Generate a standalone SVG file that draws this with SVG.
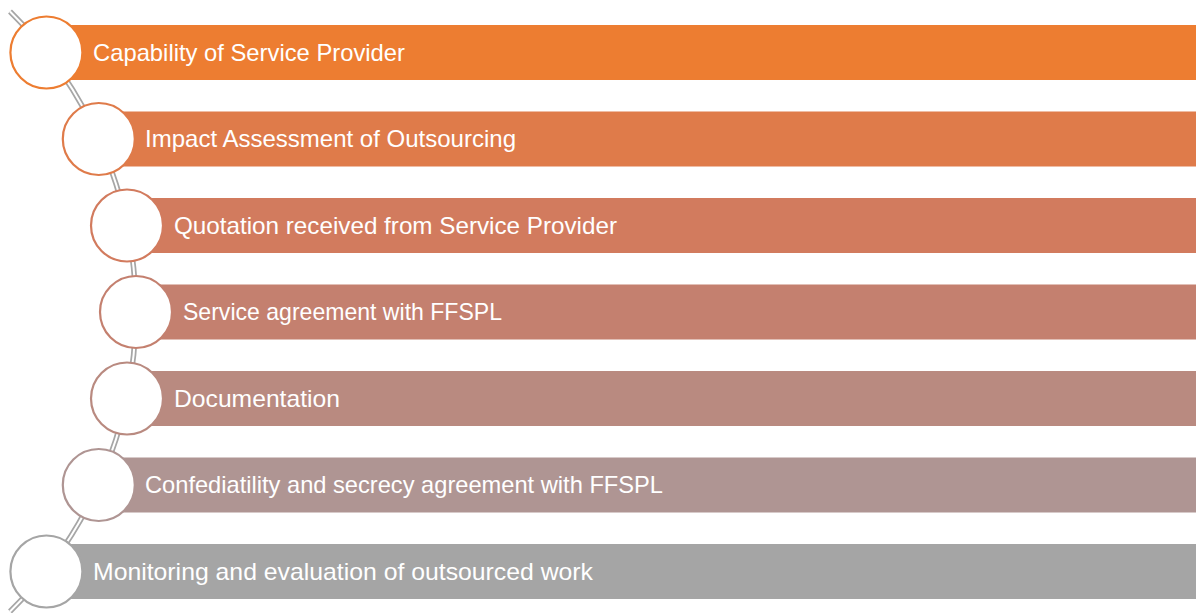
<svg xmlns="http://www.w3.org/2000/svg" width="1196" height="613" viewBox="0 0 1196 613">
  <style>
    .label { font-family: "Liberation Sans", Arial, sans-serif; font-size: 24px; fill: #ffffff; }
    .dot { fill: #ffffff; stroke-width: 2.2; }
    .rail-outer { fill: none; stroke: #a6a6a6; stroke-width: 5.5; }
    .rail-inner { fill: none; stroke: #ffffff; stroke-width: 2; }
  </style>
  <rect width="1196" height="613" fill="#ffffff"/>

  <!-- curved double rail linking the markers -->
  <g id="connectors">
    <path class="rail-outer" d="M 10 11.5 A 420.6 420.6 0 0 1 10 611.5"/>
    <path class="rail-inner" d="M 10 11.5 A 420.6 420.6 0 0 1 10 611.5"/>
  </g>

  <g id="step1">
    <rect x="46.4" y="25" width="1150" height="55" fill="#ed7d31"/>
    <circle class="dot" cx="46.4" cy="52.5" r="36" stroke="#ed7d31"/>
    <text class="label" x="93" y="60.5" textLength="312" lengthAdjust="spacingAndGlyphs">Capability of Service Provider</text>
  </g>

  <g id="step2">
    <rect x="98.8" y="111.5" width="1098" height="55" fill="#df7b4a"/>
    <circle class="dot" cx="98.8" cy="139" r="36" stroke="#df7b4a"/>
    <text class="label" x="145" y="147" textLength="371" lengthAdjust="spacingAndGlyphs">Impact Assessment of Outsourcing</text>
  </g>

  <g id="step3">
    <rect x="127" y="198" width="1070" height="55" fill="#d27b5e"/>
    <circle class="dot" cx="127" cy="225.5" r="36" stroke="#d27b5e"/>
    <text class="label" x="174" y="233.5" textLength="443" lengthAdjust="spacingAndGlyphs">Quotation received from Service Provider</text>
  </g>

  <g id="step4">
    <rect x="136" y="284.5" width="1060" height="55" fill="#c4806f"/>
    <circle class="dot" cx="136" cy="312" r="36" stroke="#c4806f"/>
    <text class="label" x="183" y="320" textLength="319" lengthAdjust="spacingAndGlyphs">Service agreement with FFSPL</text>
  </g>

  <g id="step5">
    <rect x="127" y="371" width="1070" height="55" fill="#b98a80"/>
    <circle class="dot" cx="127" cy="398.5" r="36" stroke="#b98a80"/>
    <text class="label" x="174" y="406.5" textLength="166" lengthAdjust="spacingAndGlyphs">Documentation</text>
  </g>

  <g id="step6">
    <rect x="98.8" y="457.5" width="1098" height="55" fill="#af9593"/>
    <circle class="dot" cx="98.8" cy="485" r="36" stroke="#af9593"/>
    <text class="label" x="145" y="493" textLength="518" lengthAdjust="spacingAndGlyphs">Confediatility and secrecy agreement with FFSPL</text>
  </g>

  <g id="step7">
    <rect x="46.4" y="544" width="1150" height="55" fill="#a5a5a5"/>
    <circle class="dot" cx="46.4" cy="571.5" r="36" stroke="#a5a5a5"/>
    <text class="label" x="93" y="579.5" textLength="500" lengthAdjust="spacingAndGlyphs">Monitoring and evaluation of outsourced work</text>
  </g>
</svg>
